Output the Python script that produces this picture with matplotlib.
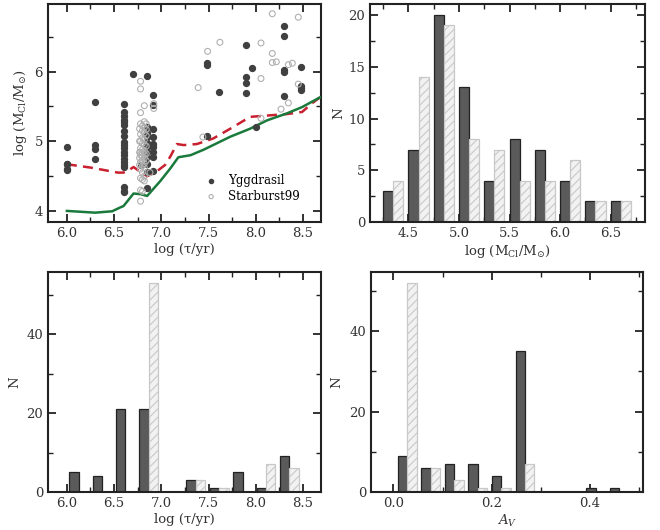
import numpy as np
import matplotlib
matplotlib.use('Agg')
import matplotlib.pyplot as plt
from matplotlib.ticker import MultipleLocator

plt.rcParams['font.family'] = 'DejaVu Serif'
plt.rcParams['mathtext.fontset'] = 'dejavuserif'
plt.rcParams['hatch.color'] = '#c8c8c8'
plt.rcParams['hatch.linewidth'] = 0.8

# --- scatter: age vs mass ---
ygg_age = [6.0, 6.0, 6.0, 6.0, 6.0,
           6.3, 6.3, 6.3, 6.3,
           6.6, 6.6, 6.6, 6.6, 6.6, 6.6, 6.6, 6.6, 6.6, 6.6,
           6.6, 6.6, 6.6, 6.6, 6.6, 6.6, 6.6, 6.6, 6.6, 6.6, 6.7,
           6.85, 6.85, 6.85, 6.85, 6.85, 6.85, 6.85, 6.85, 6.85, 6.85, 6.85,
           6.91, 6.91, 6.91, 6.91, 6.91, 6.91, 6.91, 6.91, 6.91, 6.78,
           7.48, 7.48, 7.48, 7.61,
           7.90, 7.90, 7.90, 7.90, 7.96, 8.0,
           8.30, 8.30, 8.30, 8.30, 8.30, 8.48, 8.48, 8.48, 8.48]
ygg_mass = [4.92, 4.67, 4.59, 4.67, 4.60,
            5.56, 4.94, 4.89, 4.74,
            5.53, 5.42, 5.36, 5.31, 5.27, 5.23, 5.15, 5.08, 4.99, 4.94,
            4.90, 4.85, 4.80, 4.75, 4.70, 4.66, 4.63, 4.34, 4.29, 4.27, 5.96,
            5.94, 5.21, 5.12, 5.06, 4.98, 4.92, 4.85, 4.77, 4.68, 4.56, 4.33,
            5.67, 5.52, 5.18, 5.06, 4.96, 4.92, 4.85, 4.77, 4.58, 4.66,
            6.12, 6.10, 5.07, 5.71,
            6.38, 5.92, 5.84, 5.69, 6.05, 5.21,
            6.66, 6.51, 6.02, 5.65, 6.00, 6.07, 5.79, 5.76, 5.73]

sb_age = [6.78] * 14 + [6.80] * 12 + [6.82] * 13 + [6.77] * 5 + [6.84] * 6 + \
         [6.92, 6.92, 6.88] + \
         [7.39, 7.44, 7.49, 7.62] + \
         [8.055, 8.055, 8.055, 8.175, 8.175, 8.175, 8.217] + \
         [8.267, 8.345, 8.345, 8.387, 8.45, 8.45]
sb_mass = [5.86, 5.75, 5.41, 5.25, 5.10, 5.00, 4.90, 4.84, 4.80, 4.70, 4.60, 4.47, 4.30, 4.14,
           5.22, 5.15, 5.05, 4.97, 4.88, 4.83, 4.78, 4.72, 4.65, 4.55, 4.45, 4.28,
           5.51, 5.28, 5.20, 5.12, 5.02, 4.95, 4.86, 4.81, 4.76, 4.68, 4.62, 4.50, 4.43,
           5.18, 5.00, 4.84, 4.76, 4.66,
           5.25, 5.17, 5.08, 4.93, 4.82, 4.72,
           5.54, 5.47, 4.55,
           5.77, 5.06, 6.29, 6.42,
           6.41, 5.90, 5.33, 6.83, 6.26, 6.13, 6.14,
           5.46, 6.10, 5.55, 6.12, 6.78, 5.82]

# mass limit curves
red_age = [6.0, 6.26, 6.54, 6.6, 6.65, 6.706, 6.777, 6.85, 6.935, 7.04, 7.095, 7.165,
           7.236, 7.377, 7.55, 7.73, 7.94, 8.19, 8.33, 8.49, 8.596, 8.68]
red_mass = [4.67, 4.62, 4.55, 4.55, 4.58, 4.63, 4.56, 4.50, 4.55, 4.66, 4.78, 4.96,
            4.945, 4.96, 5.04, 5.18, 5.35, 5.376, 5.39, 5.42, 5.545, 5.63]
green_age = [6.0, 6.3, 6.48, 6.565, 6.6, 6.706, 6.78, 6.85, 6.99, 7.095, 7.18,
             7.31, 7.45, 7.73, 7.94, 8.12, 8.33, 8.49, 8.68]
green_mass = [4.0, 3.975, 3.995, 4.05, 4.07, 4.25, 4.24, 4.215, 4.43, 4.61, 4.77,
              4.80, 4.88, 5.065, 5.18, 5.30, 5.40, 5.49, 5.63]

# --- histograms (counts per bin) ---
mass_edges = 4.225 + 0.25 * np.arange(11)
mass_ygg = [3, 7, 20, 13, 4, 8, 7, 4, 2, 2]
mass_sb = [4, 14, 19, 8, 7, 4, 4, 6, 2, 2]

age_edges = np.linspace(6.0, 8.48, 11)
age_ygg = [5, 4, 21, 21, 0, 3, 1, 5, 1, 9]
age_sb = [0, 0, 0, 53, 0, 3, 1, 0, 7, 6]

av_edges = 0.004 + 0.048 * np.arange(11)
av_ygg = [9, 6, 7, 7, 4, 35, 0, 0, 1, 1]
av_sb = [52, 6, 3, 1, 1, 7, 0, 0, 0, 0]

DARK = '#5a5a5a'
SCAT = '#404040'


def style(ax, xmaj, xmin, ymaj, ymin):
    ax.xaxis.set_major_locator(MultipleLocator(xmaj))
    ax.xaxis.set_minor_locator(MultipleLocator(xmin))
    ax.yaxis.set_major_locator(MultipleLocator(ymaj))
    ax.yaxis.set_minor_locator(MultipleLocator(ymin))
    ax.tick_params(which='both', direction='in', top=True, right=True,
                   colors='#222222', labelcolor='#333333', labelsize=9.5)
    ax.tick_params(which='major', length=6, width=1.3)
    ax.tick_params(which='minor', length=3.5, width=1.0)
    for s in ax.spines.values():
        s.set_linewidth(1.5)
        s.set_color('#222222')


def hist_pair(ax, edges, a, b):
    w = np.diff(edges)
    left = edges[:-1]
    ha = np.array(a)
    hb = np.array(b)
    ax.bar(left + 0.1 * w, ha, width=0.4 * w, align='edge', color=DARK,
           edgecolor='#222222', linewidth=0.9, zorder=2)
    ax.bar(left + 0.5 * w, hb, width=0.4 * w, align='edge', color='#f2f2f2',
           edgecolor='#c8c8c8', linewidth=0.9, hatch='////', zorder=2)


fig = plt.figure(figsize=(6.6, 5.3), dpi=100)
ax1 = fig.add_axes([0.0727, 0.581, 0.4136, 0.4115])
ax2 = fig.add_axes([0.5606, 0.581, 0.4167, 0.4115])
ax3 = fig.add_axes([0.0727, 0.0717, 0.4136, 0.4151])
ax4 = fig.add_axes([0.562, 0.0717, 0.412, 0.4151])

tau_label = 'log (τ/yr)'
mass_label = r'log (M$_{\rm Cl}$/M$_{\odot}$)'

# panel 1
ax1.plot(red_age, red_mass, '--', color='#c8202f', lw=1.8, dashes=(4, 2.5), zorder=3)
ax1.plot(green_age, green_mass, '-', color='#1a7a3c', lw=1.8, zorder=3)
ax1.scatter(ygg_age, ygg_mass, s=18, color=SCAT, zorder=4, label='Yggdrasil')
ax1.scatter(sb_age, sb_mass, s=18, facecolors='none', edgecolors='#b0b0b0',
            linewidths=0.8, zorder=4, label='Starburst99')
ax1.set_xlim(5.8, 8.69)
ax1.set_ylim(3.84, 6.97)
style(ax1, 0.5, 0.25, 1, 0.5)
ax1.set_xlabel(tau_label, fontsize=9.5, color='#333333', labelpad=2)
ax1.set_ylabel(mass_label, fontsize=9.5, color='#333333', labelpad=4)
ax1.legend(loc='lower right', frameon=False, fontsize=8.5, markerscale=0.7,
           handletextpad=0.4, labelspacing=0.25, bbox_to_anchor=(0.96, 0.04))

# panel 2
hist_pair(ax2, mass_edges, mass_ygg, mass_sb)
ax2.set_xlim(4.12, 6.84)
ax2.set_ylim(0, 21.06)
style(ax2, 0.5, 0.25, 5, 2.5)
ax2.set_xlabel(mass_label, fontsize=9.5, color='#333333', labelpad=2)
ax2.set_ylabel('N', fontsize=9.5, color='#333333', labelpad=2)

# panel 3
hist_pair(ax3, age_edges, age_ygg, age_sb)
ax3.set_xlim(5.8, 8.69)
ax3.set_ylim(0, 55.7)
style(ax3, 0.5, 0.25, 20, 10)
ax3.set_xlabel(tau_label, fontsize=9.5, color='#333333', labelpad=2)
ax3.set_ylabel('N', fontsize=9.5, color='#333333', labelpad=4)

# panel 4
hist_pair(ax4, av_edges, av_ygg, av_sb)
ax4.set_xlim(-0.046, 0.508)
ax4.set_ylim(0, 54.7)
style(ax4, 0.2, 0.1, 20, 10)
ax4.set_xlabel(r'$A_V$', fontsize=9.5, color='#333333', labelpad=2)
ax4.set_ylabel('N', fontsize=9.5, color='#333333', labelpad=4)

fig.savefig('out.png', dpi=100)
